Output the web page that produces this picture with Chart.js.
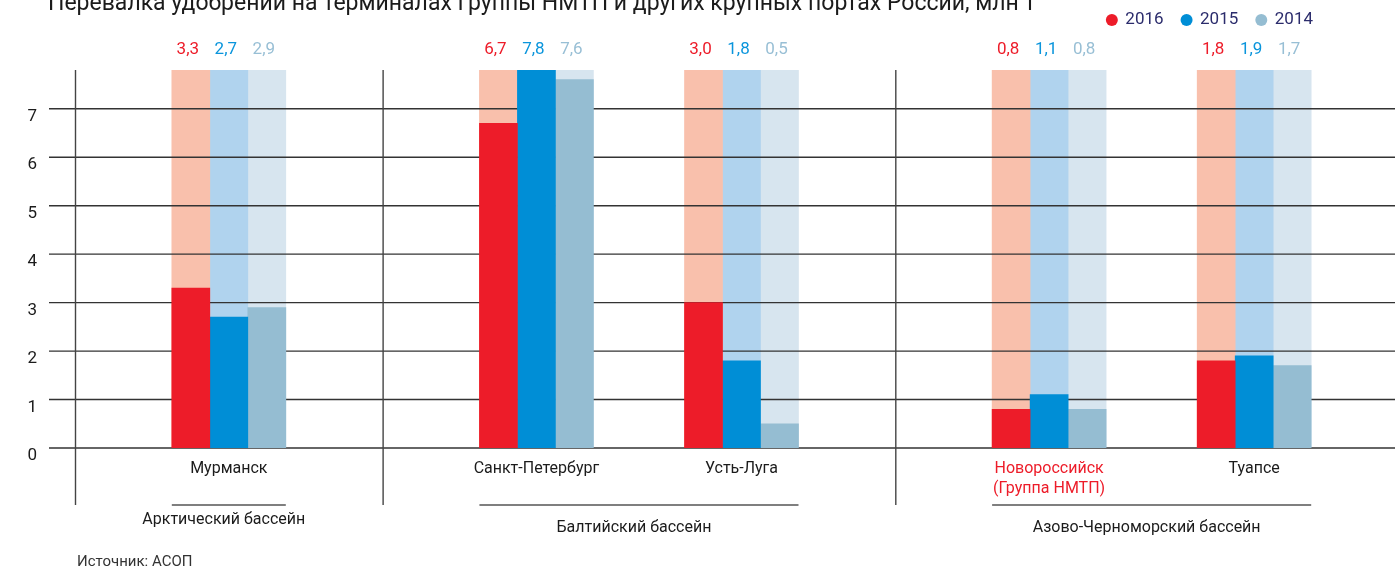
<!DOCTYPE html>
<html lang="ru">
<head>
<meta charset="utf-8">
<title>Перевалка удобрений на терминалах Группы НМТП и других крупных портах России</title>
<script src="https://cdn.jsdelivr.net/npm/chart.js@4.4.1/dist/chart.umd.min.js"></script>
<style>
  html, body { margin: 0; padding: 0; background: #ffffff; overflow: hidden; }
  /* the plot runs slightly past the right edge of the frame and is cropped there */
  #wrap { position: relative; width: 1395px; height: 575px; overflow: hidden; }
  canvas { display: block; }
</style>
</head>
<body>
<div id="wrap"><canvas id="chart" width="1408" height="575"></canvas></div>
<script>
// ---- Data: fertilizer transshipment, million tonnes ----
const titleText = 'Перевалка удобрений на терминалах Группы НМТП и других крупных портах России, млн т';
const sourceText = 'Источник: АСОП';
const ports = ['Мурманск', 'Санкт-Петербург', 'Усть-Луга', ['Новороссийск', '(Группа НМТП)'], 'Туапсе'];
const years = ['2016', '2015', '2014'];
const values2016 = [3.3, 6.7, 3.0, 0.8, 1.8];
const values2015 = [2.7, 7.8, 1.8, 1.1, 1.9];
const values2014 = [2.9, 7.6, 0.5, 0.8, 1.7];
const basins = ['Арктический бассейн', 'Балтийский бассейн', 'Азово-Черноморский бассейн'];
const basinPorts = [[0], [1, 2], [3, 4]];
const yTickValues = [0, 1, 2, 3, 4, 5, 6, 7];
const groupPort = 3; // the company's own port, labelled in red

// ---- Layout: the category axis is split into equal slots, ports sit in some of them ----
const SLOT_COUNT = 13;
const portSlots = [1, 4, 6, 9, 11];
const basinStartSlots = [0, 3, 8];
const basinLabelShift = [-8, 0, 0];

// ---- Styles ----
const FONT = 'Roboto, "Liberation Sans", Arial, sans-serif';
const TEXT = '#1b1b1b';
const barColors = ['#ED1C29', '#008ED6', '#95BDD2'];
const trackColors = ['#F9C0AC', '#B0D3EE', '#D7E5EF'];
const labelColors = ['#ED1C29', '#0A95DC', '#98BFD5'];

Chart.defaults.font.family = FONT;
Chart.defaults.color = TEXT;

const series = [values2016, values2015, values2014];
const yTop = Math.max(...values2016, ...values2015, ...values2014);

const slotLabels = Array.from({ length: SLOT_COUNT }, () => '');
portSlots.forEach((s, i) => { slotLabels[s] = ports[i]; });
const toSlots = arr => {
  const out = Array(SLOT_COUNT).fill(null);
  portSlots.forEach((s, i) => { out[s] = arr[i]; });
  return out;
};

const valueSets = series.map((vals, k) => ({
  label: years[k],
  data: toSlots(vals),
  backgroundColor: barColors[k],
  stack: 'y' + years[k],
  order: 0,
  role: 'value'
}));
const trackSets = series.map((vals, k) => ({
  label: years[k] + ' фон',
  data: toSlots(vals.map(() => yTop)),
  backgroundColor: trackColors[k],
  stack: 'y' + years[k],
  order: 1,
  role: 'track'
}));

// Horizontal rules sit above the pale tracks but under the solid bars
const ruleLines = {
  id: 'ruleLines',
  beforeDatasetsDraw(chart) { chart.$rulesDone = false; },
  beforeDatasetDraw(chart, args) {
    const ds = chart.data.datasets[args.index];
    if (ds.role !== 'value' || chart.$rulesDone) return;
    chart.$rulesDone = true;
    const { ctx, scales: { y } } = chart;
    ctx.save();
    ctx.strokeStyle = '#333333';
    ctx.lineWidth = 1.4;
    y.ticks.forEach(t => {
      const py = y.getPixelForValue(t.value);
      ctx.beginPath();
      ctx.moveTo(chart.chartArea.left - 26, py);
      ctx.lineTo(chart.width, py);
      ctx.stroke();
    });
    ctx.restore();
  }
};

// Value figures above each column group
const valueLabels = {
  id: 'valueLabels',
  afterDatasetsDraw(chart) {
    const { ctx, chartArea } = chart;
    ctx.save();
    ctx.font = '17px ' + FONT;
    ctx.textAlign = 'center';
    ctx.textBaseline = 'middle';
    chart.data.datasets.forEach((ds, di) => {
      if (ds.role !== 'value') return;
      const meta = chart.getDatasetMeta(di);
      ctx.fillStyle = labelColors[di];
      meta.data.forEach((bar, i) => {
        const v = ds.data[i];
        if (v === null) return;
        ctx.fillText(v.toFixed(1).replace('.', ','), bar.x - 3, chartArea.top - 20);
      });
    });
    ctx.restore();
  }
};

// Title, legend, basin brackets and source line
const frame = {
  id: 'frame',
  afterDraw(chart) {
    const { ctx, chartArea, scales: { x } } = chart;
    const slotW = x.getPixelForValue(1) - x.getPixelForValue(0);
    ctx.save();

    // title
    ctx.fillStyle = TEXT;
    ctx.font = '23px ' + FONT;
    ctx.textAlign = 'left';
    ctx.textBaseline = 'alphabetic';
    ctx.fillText(titleText, 48, 10);

    // legend, right-aligned
    ctx.font = '17px ' + FONT;
    ctx.textBaseline = 'middle';
    let right = 1313;
    const legendY = 20;
    for (let k = years.length - 1; k >= 0; k--) {
      const tw = ctx.measureText(years[k]).width;
      ctx.fillStyle = '#2B2C6C';
      ctx.fillText(years[k], right - tw, legendY);
      const cx = right - tw - 13.5;
      ctx.fillStyle = barColors[k];
      ctx.beginPath();
      ctx.arc(cx, legendY, 6, 0, Math.PI * 2);
      ctx.fill();
      right = cx - 23;
    }

    // basin separators
    const lineBottom = 505;
    ctx.strokeStyle = '#444444';
    ctx.lineWidth = 1.4;
    basinStartSlots.forEach(s => {
      const px = x.getPixelForValue(s) - slotW / 2 + 0.5;
      ctx.beginPath();
      ctx.moveTo(px, chartArea.top);
      ctx.lineTo(px, lineBottom);
      ctx.stroke();
    });

    // basin brackets and names
    basins.forEach((name, b) => {
      let lo = Infinity, hi = -Infinity;
      basinPorts[b].forEach(p => {
        chart.data.datasets.forEach((ds, di) => {
          if (ds.role !== 'value') return;
          const bar = chart.getDatasetMeta(di).data[portSlots[p]];
          lo = Math.min(lo, bar.x - bar.width / 2);
          hi = Math.max(hi, bar.x + bar.width / 2);
        });
      });
      ctx.strokeStyle = '#555555';
      ctx.lineWidth = 1.6;
      ctx.beginPath();
      ctx.moveTo(lo, lineBottom);
      ctx.lineTo(hi, lineBottom);
      ctx.stroke();
      ctx.fillStyle = TEXT;
      ctx.font = '16px ' + FONT;
      ctx.textAlign = 'center';
      ctx.textBaseline = 'middle';
      ctx.fillText(name, (lo + hi) / 2 - 5, 528 + basinLabelShift[b]);
    });

    // source
    ctx.font = '15px ' + FONT;
    ctx.textAlign = 'left';
    ctx.fillStyle = '#333333';
    ctx.fillText(sourceText, 77, 562);
    ctx.restore();
  }
};

new Chart(document.getElementById('chart'), {
  type: 'bar',
  data: { labels: slotLabels, datasets: [...valueSets, ...trackSets] },
  options: {
    responsive: false,
    animation: false,
    events: [],
    layout: { padding: { top: 70, right: 0, bottom: 0, left: 0 } },
    datasets: { bar: { barThickness: 38, borderWidth: 0 } },
    plugins: { legend: { display: false }, tooltip: { enabled: false }, title: { display: false } },
    scales: {
      x: {
        offset: true,
        grid: { display: false, drawTicks: false },
        border: { display: false },
        ticks: {
          autoSkip: false, maxRotation: 0, minRotation: 0, padding: 11,
          font: { size: 16, lineHeight: 1.25 },
          color: ctx => ctx.index === portSlots[groupPort] ? barColors[0] : TEXT
        },
        afterFit: s => { s.height = 127; }
      },
      y: {
        min: 0, max: yTop, stacked: false,
        grid: { display: false, drawTicks: false },
        border: { display: false },
        ticks: { padding: 38, labelOffset: 8, font: { size: 17 }, color: TEXT },
        afterBuildTicks: s => { s.ticks = yTickValues.map(v => ({ value: v })); },
        afterFit: s => { s.width = 75; }
      }
    }
  },
  plugins: [ruleLines, valueLabels, frame]
});
</script>
</body>
</html>
